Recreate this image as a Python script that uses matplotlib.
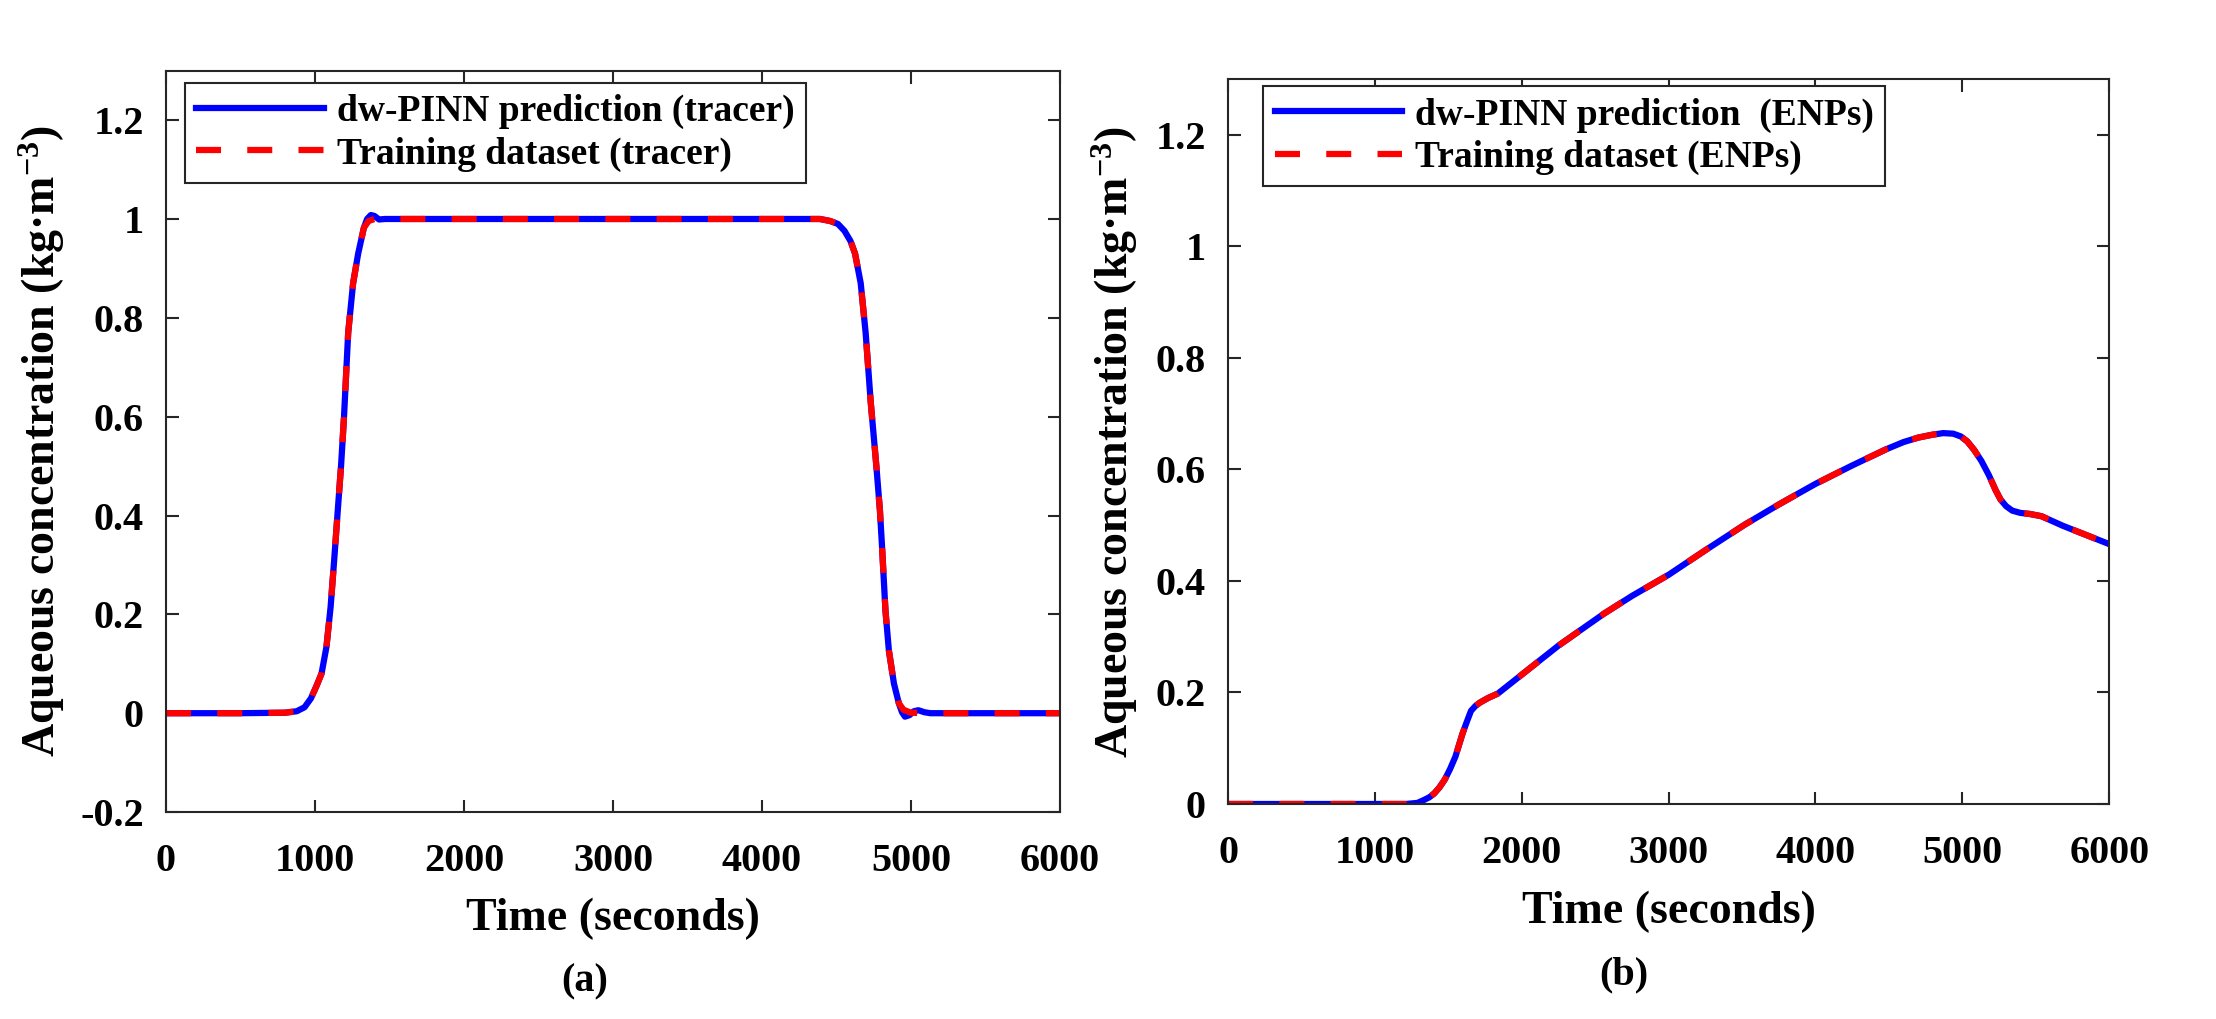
import matplotlib
matplotlib.use("Agg")
import matplotlib.pyplot as plt

# ==== DATA ====
# (a) tracer
tracer_t_pred = [0, 500, 800, 878, 930, 973, 1010, 1044, 1077, 1105, 1129, 1153, 1175,
                 1195, 1223, 1256, 1290, 1328, 1350, 1375, 1400, 1430, 1470, 1600,
                 4389, 4457, 4510, 4554, 4595, 4625, 4663, 4696, 4730, 4768, 4792,
                 4805, 4829, 4852, 4886, 4919, 4940, 4960, 4990, 5020, 5050, 5090,
                 5130, 6000]
tracer_c_pred = [0, 0, 0.001, 0.004, 0.012, 0.03, 0.055, 0.08, 0.134, 0.215, 0.31, 0.41, 0.50,
                 0.60, 0.77, 0.87, 0.93, 0.982, 1.0, 1.008, 1.006, 0.999, 1.0, 1.0,
                 1.0, 0.996, 0.99, 0.976, 0.955, 0.93, 0.87, 0.77, 0.63, 0.50, 0.41,
                 0.343, 0.208, 0.127, 0.06, 0.02, 0.002, -0.007, -0.004, 0.004, 0.006, 0.002,
                 0, 0]
tracer_t_train = [0, 500, 800, 878, 930, 973, 1010, 1044, 1077, 1105, 1129, 1153, 1175,
                  1195, 1223, 1256, 1290, 1328, 1360, 1400, 1600,
                  4389, 4457, 4510, 4554, 4595, 4625, 4663, 4696, 4730, 4768, 4792,
                  4805, 4829, 4852, 4886, 4919, 4950, 5000, 5100, 6000]
tracer_c_train = [0, 0, 0.001, 0.004, 0.012, 0.03, 0.055, 0.08, 0.134, 0.215, 0.31, 0.41, 0.50,
                  0.60, 0.77, 0.87, 0.93, 0.982, 0.996, 1.0, 1.0,
                  1.0, 0.996, 0.99, 0.976, 0.955, 0.93, 0.87, 0.77, 0.63, 0.50, 0.41,
                  0.343, 0.208, 0.127, 0.06, 0.02, 0.007, 0.001, 0, 0]

# (b) ENPs
enp_t = [0, 1212, 1290, 1332, 1370, 1404, 1440, 1476, 1512, 1548, 1596, 1625, 1654, 1685,
         1716, 1770, 1837, 2005, 2250, 2558, 2750, 3000, 3250, 3519, 3750, 4000, 4250,
         4481, 4600, 4700, 4793, 4870, 4938, 4990, 5034, 5080, 5130, 5180, 5226, 5260,
         5298, 5340, 5394, 5460, 5539, 5683, 6000]
enp_c_pred = [0, 0, 0.002, 0.007, 0.012, 0.019, 0.03, 0.044, 0.063, 0.085, 0.126, 0.147, 0.167, 0.176,
              0.182, 0.19, 0.198, 0.233, 0.284, 0.341, 0.373, 0.411, 0.455, 0.501, 0.537, 0.574, 0.607,
              0.636, 0.649, 0.657, 0.662, 0.665, 0.664, 0.659, 0.65, 0.635, 0.615, 0.59, 0.563, 0.546,
              0.534, 0.526, 0.522, 0.520, 0.516, 0.499, 0.466]
enp_c_train = list(enp_c_pred)

XTICKS = [0, 1000, 2000, 3000, 4000, 5000, 6000]
YTICKS_A = [-0.2, 0, 0.2, 0.4, 0.6, 0.8, 1, 1.2]
YTICKS_B = [0, 0.2, 0.4, 0.6, 0.8, 1, 1.2]

YLABEL = "Aqueous concentration (kg\u00b7m$^{-3}$)"
XLABEL = "Time (seconds)"

# ==== STYLE ====
plt.rcParams["font.family"] = ["Liberation Serif", "DejaVu Serif"]
plt.rcParams["font.weight"] = "bold"
plt.rcParams["mathtext.default"] = "regular"
plt.rcParams["axes.linewidth"] = 1.5
plt.rcParams["axes.edgecolor"] = "#262626"

BLUE = "#0000FF"
RED = "#FF0000"
LW = 4.5


def fmt(v):
    return "%g" % v


def style_axis(ax, yticks, ylim):
    ax.set_xlim(0, 6000)
    ax.set_ylim(*ylim)
    ax.set_xticks(XTICKS)
    ax.set_xticklabels([fmt(v) for v in XTICKS])
    ax.set_yticks(yticks)
    ax.set_yticklabels([fmt(v) for v in yticks])
    ax.tick_params(direction="in", top=True, right=True, length=9, width=1.5,
                   labelsize=29, colors="#262626", labelcolor="black")
    ax.tick_params(axis="x", pad=22)
    ax.tick_params(axis="y", pad=16)
    ax.set_xlabel(XLABEL, fontsize=33, fontweight="bold")
    ax.set_ylabel(YLABEL, fontsize=33, fontweight="bold")


fig = plt.figure(figsize=(22.16, 10.19), dpi=100)

# ==== PANEL (a) ====
ax1 = fig.add_axes([0.0749, 0.2031, 0.4034, 0.7275])
ax1.plot(tracer_t_pred, tracer_c_pred, color=BLUE, lw=LW, label="dw-PINN prediction (tracer)")
ax1.plot(tracer_t_train, tracer_c_train, color=RED, lw=LW, linestyle=(0, (4, 4.2)),
         label="Training dataset (tracer)")
style_axis(ax1, YTICKS_A, (-0.2, 1.3))
ax1.xaxis.set_label_coords(0.5, -0.116)
ax1.yaxis.set_label_coords(-0.111, 0.5)
leg1 = ax1.legend(loc="upper left", bbox_to_anchor=(0.021, 0.984), borderaxespad=0,
                  fontsize=27, fancybox=False, framealpha=1, edgecolor="#262626",
                  handlelength=3.4, handletextpad=0.35, labelspacing=0.2, borderpad=0.3)
leg1.get_frame().set_linewidth(1.5)

# ==== PANEL (b) ====
ax2 = fig.add_axes([0.5542, 0.211, 0.3976, 0.7115])
ax2.plot(enp_t, enp_c_pred, color=BLUE, lw=LW, label="dw-PINN prediction  (ENPs)")
ax2.plot(enp_t, enp_c_train, color=RED, lw=LW, linestyle=(0, (4, 4.2)),
         label="Training dataset (ENPs)")
style_axis(ax2, YTICKS_B, (0, 1.3))
ax2.xaxis.set_label_coords(0.5, -0.119)
ax2.yaxis.set_label_coords(-0.1, 0.5)
leg2 = ax2.legend(loc="upper left", bbox_to_anchor=(0.040, 0.99), borderaxespad=0,
                  fontsize=27, fancybox=False, framealpha=1, edgecolor="#262626",
                  handlelength=3.4, handletextpad=0.35, labelspacing=0.2, borderpad=0.3)
leg2.get_frame().set_linewidth(1.5)

# ==== CAPTIONS ====
fig.text(585 / 2216, 1 - 982 / 1019, "(a)", fontsize=29, fontweight="bold",
         ha="center", va="center")
fig.text(1624 / 2216, 1 - 975 / 1019, "(b)", fontsize=29, fontweight="bold",
         ha="center", va="center")

fig.savefig("out.png", dpi=100)
